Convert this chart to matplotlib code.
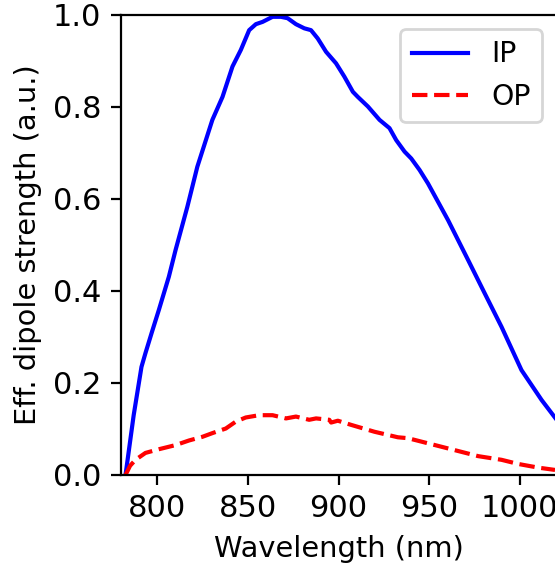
import matplotlib
matplotlib.use("Agg")
import matplotlib.pyplot as plt

# in-plane (IP) effective dipole strength
ip_wl = [782.5, 787, 791.3, 793.5, 797, 800.9, 806.4, 810.1, 816.6, 822.1, 830.4,
         836.0, 841.5, 846.1, 850.7, 854.4, 858.1, 863.6, 868.2, 871.9, 876.5,
         881.1, 884.8, 888.5, 893.1, 898.6, 903.2, 907.9, 910.6, 916.2, 922.6,
         928.1, 931.8, 936.4, 940.1, 944.7, 949.3, 960.4, 971.5, 980.6, 989.9,
         1000.9, 1012.0, 1020.3]
ip_val = [0.0, 0.13, 0.235, 0.265, 0.31, 0.359, 0.431, 0.489, 0.583, 0.670, 0.772,
          0.822, 0.888, 0.924, 0.967, 0.980, 0.985, 0.996, 0.996, 0.993, 0.980,
          0.971, 0.967, 0.949, 0.920, 0.895, 0.866, 0.833, 0.822, 0.801, 0.772,
          0.754, 0.728, 0.703, 0.688, 0.663, 0.634, 0.554, 0.467, 0.395, 0.322,
          0.228, 0.163, 0.120]

# out-of-plane (OP)
op_wl = [782.5, 785, 788, 793.5, 800.9, 810.1, 817.5, 824.9, 830.4, 837.8, 843.3,
         848.8, 856.2, 863.6, 871.0, 876.5, 883.8, 887.6, 894.9, 895.9, 899.6,
         906.9, 919.8, 932.7, 938.3, 951.2, 964.1, 977.0, 989.9, 999.1, 1010.2,
         1019.4]
op_val = [0.0, 0.02, 0.033, 0.048, 0.056, 0.065, 0.075, 0.083, 0.091, 0.101, 0.116,
          0.125, 0.130, 0.130, 0.123, 0.127, 0.120, 0.123, 0.120, 0.114, 0.118,
          0.109, 0.094, 0.082, 0.080, 0.067, 0.054, 0.041, 0.033, 0.024, 0.016,
          0.011]

plt.rcParams['font.size'] = 11

fig = plt.figure(figsize=(2.775, 2.825), dpi=200)
ax = fig.add_axes([0.218, 0.1593, 0.784, 0.8142])

ax.plot(ip_wl, ip_val, '-', color='blue', lw=1.5, label='IP')
ax.plot(op_wl, op_val, '--', color='red', lw=1.5, label='OP')

ax.set_xlim(780, 1020)
ax.set_ylim(0, 1.0)
ax.set_xticks([800, 850, 900, 950, 1000])
ax.set_yticks([0.0, 0.2, 0.4, 0.6, 0.8, 1.0])
ax.set_xlabel('Wavelength (nm)', fontsize=10.4)
ax.set_ylabel('Eff. dipole strength (a.u.)', fontsize=10.4)
ax.legend(loc='upper right', fontsize=10.2)

fig.savefig('out.png', dpi=200)
